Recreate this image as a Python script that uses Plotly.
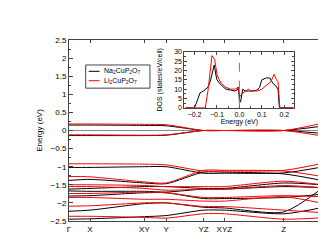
import plotly.graph_objects as go

# k-path
k_labels = ["Γ", "X", "XY", "Y", "YZ", "XYZ", "Z", "Γ"]
k_pos = [0.0, 0.083, 0.298, 0.384, 0.532, 0.614, 0.849, 1.0]

# Band energies (eV) at k-points: Na2CuP2O7 (black)
na_bands = [
    [0.15, 0.15, 0.14, 0.13, 0.0, 0.0, 0.0, 0.12],
    [-0.14, -0.14, -0.14, -0.13, 0.0, 0.0, 0.0, -0.08],
    [-1.02, -1.02, -1.0, -1.0, -1.18, -1.18, -1.17, -1.01],
    [-1.38, -1.35, -1.45, -1.47, -1.15, -1.15, -1.2, -1.38],
    [-1.62, -1.6, -1.55, -1.55, -1.6, -1.6, -1.45, -1.5],
    [-1.67, -1.68, -1.68, -1.7, -1.62, -1.62, -1.55, -1.58],
    [-1.81, -1.8, -1.72, -1.72, -1.88, -1.88, -1.85, -1.76],
    [-2.23, -2.2, -2.02, -2.0, -2.12, -2.14, -2.25, -1.6],
    [-2.45, -2.44, -2.38, -2.35, -2.2, -2.2, -2.3, -2.13],
]
# Li2CuP2O7 (red)
li_bands = [
    [0.18, 0.18, 0.17, 0.16, 0.0, 0.0, 0.0, 0.2],
    [-0.12, -0.12, -0.13, -0.12, 0.0, 0.0, 0.0, -0.15],
    [-0.92, -0.92, -0.93, -0.95, -1.12, -1.12, -1.1, -0.91],
    [-1.27, -1.28, -1.42, -1.45, -1.1, -1.1, -1.12, -1.27],
    [-1.5, -1.5, -1.52, -1.55, -1.55, -1.55, -1.4, -1.5],
    [-1.55, -1.55, -1.6, -1.65, -1.62, -1.62, -1.52, -1.58],
    [-1.74, -1.74, -1.7, -1.72, -1.85, -1.85, -1.8, -1.83],
    [-1.85, -1.85, -1.9, -1.9, -1.95, -1.95, -1.83, -2.01],
    [-2.09, -2.08, -2.0, -2.0, -2.1, -2.1, -2.2, -2.27],
    [-2.37, -2.37, -2.4, -2.42, -2.3, -2.3, -2.45, -2.41],
]

# DOS inset
na_dos_e = [-0.24, -0.2, -0.19, -0.175, -0.16, -0.14, -0.13, -0.12, -0.112, -0.105, -0.1, -0.08,
            -0.06, -0.04, -0.02, -0.01, -0.004, 0.0, 0.005, 0.015, 0.025, 0.04, 0.06, 0.08,
            0.09, 0.1, 0.12, 0.135, 0.15, 0.16, 0.172, 0.178, 0.24]
na_dos = [0, 0, 3, 8, 9, 11, 14, 20, 23, 18, 15, 12, 10, 9.5, 9, 9.5, 11, 4, 3, 10, 9, 9, 9, 9.5,
          11, 15, 16, 16, 13, 12, 10, 0, 0]
li_dos_e = [-0.24, -0.152, -0.14, -0.13, -0.122, -0.11, -0.1, -0.09, -0.08, -0.06, -0.04, -0.02,
            -0.005, 0.002, 0.015, 0.03, 0.04, 0.05, 0.08, 0.1, 0.12, 0.14, 0.155, 0.165, 0.172,
            0.18, 0.24]
li_dos = [0, 0, 9, 20, 28, 26, 18, 15, 13, 11, 10, 10, 11, 6, 8, 9, 10, 9, 9, 10, 12, 14, 18,
          15, 14, 0, 0]

legend_names = ["Na<sub>2</sub>CuP<sub>2</sub>O<sub>7</sub>", "Li<sub>2</sub>CuP<sub>2</sub>O<sub>7</sub>"]
legend_colors = ["black", "red"]

FONT = "Liberation Sans, Arial, sans-serif"
fig = go.Figure()

for b in na_bands:
    fig.add_trace(go.Scatter(x=k_pos, y=b, mode="lines", line=dict(color="black", width=1,
                  shape="spline", smoothing=0.7), name=legend_names[0], showlegend=False))
for b in li_bands:
    fig.add_trace(go.Scatter(x=k_pos, y=b, mode="lines", line=dict(color="red", width=1,
                  shape="spline", smoothing=0.7), name=legend_names[1], showlegend=False))

fig.add_trace(go.Scatter(x=na_dos_e, y=na_dos, mode="lines", line=dict(color="black", width=1),
                         xaxis="x2", yaxis="y2", showlegend=False))
fig.add_trace(go.Scatter(x=li_dos_e, y=li_dos, mode="lines", line=dict(color="red", width=1),
                         xaxis="x2", yaxis="y2", showlegend=False))

# manual compact legend (box, line samples, labels)
shapes = [
    dict(type="rect", xref="paper", yref="paper", x0=0.066, x1=0.32, y0=0.734, y1=0.862,
         line=dict(color="#444", width=1), fillcolor="white", layer="above"),
    dict(type="line", xref="x2", yref="y2", x0=0, x1=0, y0=0, y1=30,
         line=dict(color="#777", width=1, dash="dash")),
]
annotations = []
for i, (nm, c) in enumerate(zip(legend_names, legend_colors)):
    yy = 0.827 - i * 0.052
    shapes.append(dict(type="line", xref="paper", yref="paper", x0=0.078, x1=0.121, y0=yy, y1=yy,
                       line=dict(color=c, width=1), layer="above"))
    annotations.append(dict(xref="paper", yref="paper", x=0.129, y=yy, text=nm, showarrow=False,
                            xanchor="left", yanchor="middle", font=dict(family=FONT, size=7, color="black")))

axfont = dict(family=FONT, size=8, color="black")
fig.update_layout(
    width=326, height=252,
    margin=dict(l=61, r=9, t=32, b=39),
    paper_bgcolor="white", plot_bgcolor="white",
    font=dict(family=FONT, size=8, color="black"),
    showlegend=False,
    xaxis=dict(range=[0, 1], tickvals=k_pos, ticktext=k_labels, ticks="inside", ticklen=3,
               showline=True, linecolor="#444", linewidth=1, mirror="ticks", showgrid=False,
               zeroline=False, tickfont=axfont, domain=[0, 1]),
    yaxis=dict(range=[-2.5, 2.5], dtick=0.5, ticks="inside", ticklen=4, showline=True,
               linecolor="#444", linewidth=1, mirror="ticks", showgrid=False, zeroline=True,
               zerolinecolor="#888", zerolinewidth=1, tickfont=axfont,
               title=dict(text="Energy (eV)", font=axfont, standoff=6),
               minor=dict(dtick=0.25, ticks="inside", ticklen=2)),
    xaxis2=dict(domain=[0.456, 0.891], anchor="y2", range=[-0.245, 0.245], dtick=0.1,
                tickformat=".1f", ticks="inside", ticklen=3, showline=True, linecolor="#444",
                linewidth=1, mirror="ticks", showgrid=False, zeroline=False,
                tickfont=dict(family=FONT, size=7), minor=dict(dtick=0.05, ticks="inside", ticklen=2),
                title=dict(text="Energy (eV)", font=dict(family=FONT, size=7), standoff=1)),
    yaxis2=dict(domain=[0.626, 0.934], anchor="x2", range=[0, 30], dtick=5, ticks="inside",
                ticklen=3, showline=True, linecolor="#444", linewidth=1, mirror="ticks",
                showgrid=False, zeroline=False, tickfont=dict(family=FONT, size=7),
                minor=dict(dtick=2.5, ticks="inside", ticklen=2),
                title=dict(text="DOS (states/eV/cell)", font=dict(family=FONT, size=7), standoff=10)),
    shapes=shapes,
    annotations=annotations,
)

fig.write_html("out.html")
